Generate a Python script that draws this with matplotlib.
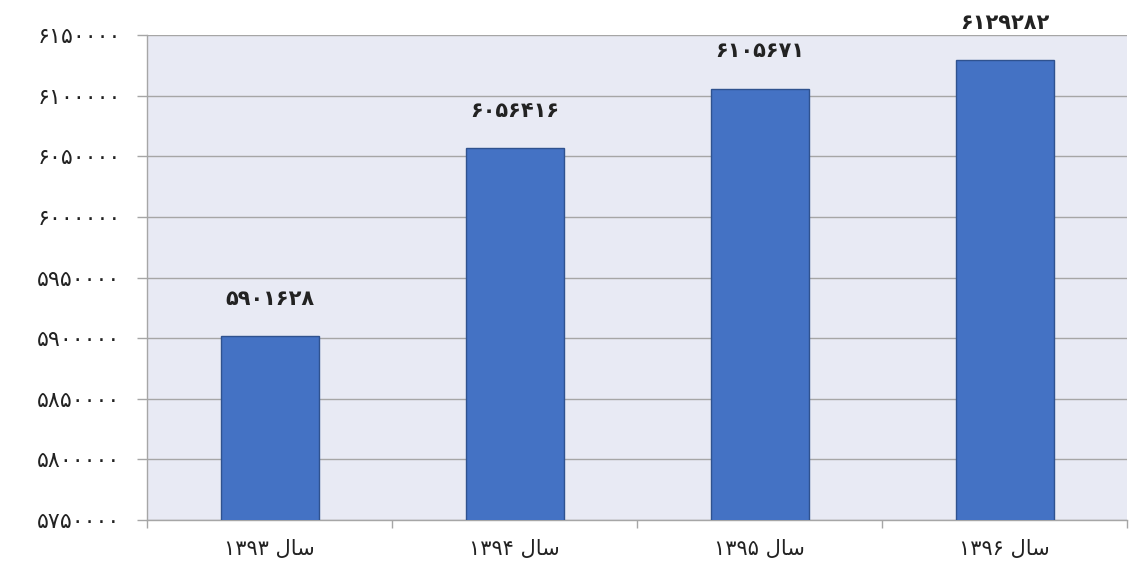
import matplotlib
matplotlib.use("Agg")
import matplotlib.pyplot as plt
from matplotlib.ticker import FixedLocator

categories = ["سال ۱۳۹۳", "سال ۱۳۹۴", "سال ۱۳۹۵", "سال ۱۳۹۶"]
values = [5901628, 6056416, 6105671, 6129282]
y_ticks = [5750000, 5800000, 5850000, 5900000, 5950000, 6000000, 6050000, 6100000, 6150000]

FA = "۰۱۲۳۴۵۶۷۸۹"

def fa_digits(n):
    return "".join(FA[int(c)] for c in str(n))

# visual (shaped, left-to-right) form of "سال"
SAL_VIS = "\uFEDD\uFE8E\uFEB3"

def fa_label(s):
    word, num = s.split(" ")
    return num + " " + SAL_VIS

plt.rcParams['font.family'] = ['DejaVu Sans']

fig = plt.figure(figsize=(11.35, 5.7), dpi=100)
ax = fig.add_axes([147/1135, 1-520/570, (1127-147)/1135, (520-35)/570])
ax.set_facecolor('#E8EAF4')

x = list(range(len(categories)))
bars = ax.bar(x, values, width=0.4, color='#4472C4', edgecolor='#2F528F', linewidth=1, zorder=3)

ax.set_ylim(5750000, 6150000)
ax.set_xlim(-0.5, len(categories)-0.5)
ax.yaxis.set_major_locator(FixedLocator(y_ticks))
ax.set_yticklabels([fa_digits(t) for t in y_ticks], fontsize=16, color='#222222')
ax.yaxis.grid(True, color='#A6A6A6', linewidth=1.0, zorder=0)
ax.set_axisbelow(True)

ax.set_xticks([i - 0.5 for i in range(len(categories)+1)])
ax.set_xticklabels([])
ax.set_xticks(x, minor=True)
ax.set_xticklabels([fa_label(c) for c in categories], minor=True, fontsize=15, color='#222222')
ax.tick_params(axis='x', which='minor', length=0, pad=14)
ax.tick_params(axis='x', which='major', length=6, color='#A6A6A6', width=1.0)
ax.tick_params(axis='y', length=7, color='#A6A6A6', width=1.0, pad=12)

for s in ['top', 'right']:
    ax.spines[s].set_visible(False)
for s in ['left', 'bottom']:
    ax.spines[s].set_color('#A6A6A6')
    ax.spines[s].set_linewidth(1.0)

for b, v in zip(bars, values):
    ax.annotate(fa_digits(v), (b.get_x()+b.get_width()/2, v), xytext=(0, 27),
                textcoords='offset points', ha='center', va='center',
                fontsize=15, fontweight='bold', color='#222222', annotation_clip=False)

fig.savefig('out.png', dpi=100)
